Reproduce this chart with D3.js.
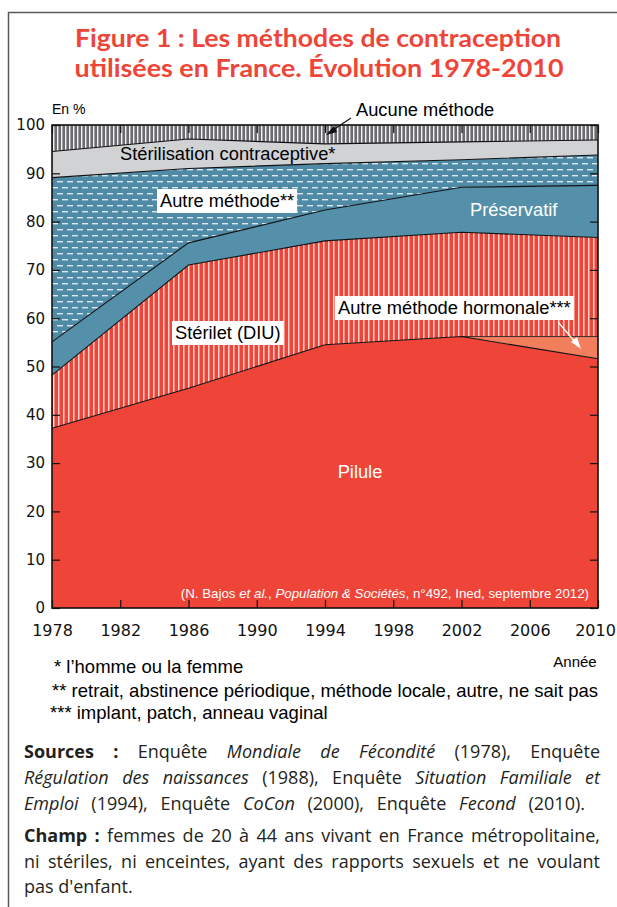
<!DOCTYPE html>
<html>
<head>
<meta charset="utf-8">
<script src="https://cdn.jsdelivr.net/npm/d3@7"></script>
<style>
  body { margin: 0; background: #fff; }
  svg { display: block; }
</style>
</head>
<body>
<div id="chart"></div>
<script>
// data (percentages, stacked bottom -> top)
var years = [1978, 1986, 1994, 2002, 2010];
var pilule = [37.2, 45.5, 54.5, 56.2, 51.6];
var hormonale = [0, 0, 0, 0, 4.6];
var sterilet = [11.0, 25.5, 21.5, 21.6, 20.5];
var preservatif = [6.9, 4.6, 6.4, 9.3, 10.8];
var autre = [34.0, 15.4, 9.6, 5.7, 6.3];
var sterilisation = [5.4, 6.1, 4.1, 3.7, 3.1];
var aucune = [5.5, 2.9, 3.9, 3.5, 3.1];
var xTicks = [1978, 1982, 1986, 1990, 1994, 1998, 2002, 2006, 2010];
var yTicks = [0, 10, 20, 30, 40, 50, 60, 70, 80, 90, 100];

var keys = ["pilule", "hormonale", "sterilet", "preservatif", "autre", "sterilisation", "aucune"];
var series = {pilule: pilule, hormonale: hormonale, sterilet: sterilet, preservatif: preservatif,
    autre: autre, sterilisation: sterilisation, aucune: aucune};
var fills = {pilule: "#ef4538", hormonale: "#f37e5c", sterilet: "url(#stripesRed)",
    preservatif: "#5590aa", autre: "url(#dashesBlue)", sterilisation: "#d1d2d4",
    aucune: "url(#stripesGray)"};

var rows = years.map(function (y, i) {
    var r = {year: y};
    keys.forEach(function (k) { r[k] = series[k][i]; });
    return r;
});

var W = 617, H = 907;
var margin = {top: 125, right: 19, bottom: 299, left: 52},
    width = W - margin.left - margin.right,
    height = H - margin.top - margin.bottom;

var svg = d3.select("#chart").append("svg")
    .attr("width", W)
    .attr("height", H);

// patterns
var defs = svg.append("defs");
var p1 = defs.append("pattern").attr("id", "stripesGray")
    .attr("patternUnits", "userSpaceOnUse").attr("width", 4).attr("height", 10);
p1.append("rect").attr("width", 4).attr("height", 10).attr("fill", "#6b6c6f");
p1.append("rect").attr("x", 1).attr("width", 1.4).attr("height", 10).attr("fill", "#f2f2f2");

var p2 = defs.append("pattern").attr("id", "stripesRed")
    .attr("patternUnits", "userSpaceOnUse").attr("width", 5).attr("height", 10);
p2.append("rect").attr("width", 5).attr("height", 10).attr("fill", "#ef4538");
p2.append("rect").attr("x", 1).attr("width", 1.5).attr("height", 10).attr("fill", "#fbd3cd");

var p3 = defs.append("pattern").attr("id", "dashesBlue")
    .attr("patternUnits", "userSpaceOnUse").attr("width", 10).attr("height", 12);
p3.append("rect").attr("width", 10).attr("height", 12).attr("fill", "#4f8ba7");
p3.append("rect").attr("x", 0).attr("y", 2).attr("width", 6).attr("height", 1.4).attr("fill", "#dbe8ef");
p3.append("rect").attr("x", 5).attr("y", 8).attr("width", 6).attr("height", 1.4).attr("fill", "#dbe8ef");
p3.append("rect").attr("x", -5).attr("y", 8).attr("width", 6).attr("height", 1.4).attr("fill", "#dbe8ef");

// outer frame
svg.append("rect")
    .attr("x", 8.5).attr("y", 12.5)
    .attr("width", 700).attr("height", 1000)
    .attr("fill", "none").attr("stroke", "#58595b").attr("stroke-width", 1.5);

// title (one text, two lines)
var title = svg.append("text").attr("fill", "#ef4538")
    .style("font-family", "Lato, 'Open Sans', sans-serif")
    .style("font-weight", 700)
    .style("font-size", "24.5px")
    .attr("text-anchor", "middle");
title.append("tspan").attr("x", 318).attr("y", 47)
    .attr("textLength", 486).attr("lengthAdjust", "spacingAndGlyphs")
    .text("Figure 1 : Les méthodes de contraception");
title.append("tspan").attr("x", 319).attr("y", 77)
    .attr("textLength", 489).attr("lengthAdjust", "spacingAndGlyphs")
    .text("utilisées en France. Évolution 1978-2010");

var g = svg.append("g")
    .attr("transform", "translate(" + margin.left + "," + margin.top + ")");

var x = d3.scaleLinear().domain([1978, 2010]).range([0, width]);
var y = d3.scaleLinear().domain([0, 100]).range([height, 0]);

var stack = d3.stack().keys(keys);
var layers = stack(rows);

var area = d3.area()
    .x(function (d) { return x(d.data.year); })
    .y0(function (d) { return y(d[0]); })
    .y1(function (d) { return y(d[1]); });

g.selectAll(".layer")
    .data(layers)
    .enter().append("path")
    .attr("class", "layer")
    .attr("d", area)
    .attr("fill", function (d) { return fills[d.key]; });

// boundary lines
var line = d3.line()
    .x(function (d) { return x(d.data.year); })
    .y(function (d) { return y(d[1]); });
g.selectAll(".edge")
    .data(layers.filter(function (d) { return d.key !== "aucune" && d.key !== "hormonale"; }))
    .enter().append("path")
    .attr("class", "edge")
    .attr("d", line)
    .attr("fill", "none")
    .attr("stroke", "#111")
    .attr("stroke-width", 1.1);
// hormonale top only where it exists
var hl = layers[1].filter(function (d) { return d.data.year >= 2002; });
g.append("path").attr("d", line(hl)).attr("fill", "none")
    .attr("stroke", "#111").attr("stroke-width", 0.8);

// axes with inner ticks
var xAx = g.append("g")
    .attr("transform", "translate(0," + height + ")")
    .call(d3.axisBottom(x).tickValues(xTicks).tickFormat(d3.format("d"))
        .tickSize(-8).tickSizeOuter(0).tickPadding(17));
xAx.selectAll(".tick text").style("font-size", "16px");
// keep the last year inside the page
xAx.selectAll(".tick text").filter(function (d) { return d === 2010; }).attr("dx", -3);
g.append("g")
    .call(d3.axisTop(x).tickValues(xTicks).tickFormat("").tickSize(-8).tickSizeOuter(0));
g.append("g")
    .call(d3.axisLeft(y).tickValues(yTicks).tickSize(-8).tickSizeOuter(0).tickPadding(7))
    .selectAll(".tick text").style("font-size", "15px");
g.append("g")
    .attr("transform", "translate(" + width + ",0)")
    .call(d3.axisRight(y).tickValues(yTicks).tickFormat("").tickSize(-8).tickSizeOuter(0));
g.selectAll(".domain").remove();
g.selectAll(".tick line").attr("stroke", "#111").attr("stroke-width", 1.2);
g.selectAll(".tick text").attr("fill", "#111")
    .style("font-family", "'DejaVu Sans', sans-serif");

g.append("rect").attr("width", width).attr("height", height)
    .attr("fill", "none").attr("stroke", "#111").attr("stroke-width", 1.6);

// labels
var lab = svg.append("g").style("font-family", "'Liberation Sans', Arial, sans-serif");
lab.append("text").attr("x", 52).attr("y", 114).style("font-size", "14px").text("En %");
lab.append("text").attr("x", 356).attr("y", 116).style("font-size", "18.3px").text("Aucune méthode");
lab.append("line").attr("x1", 351).attr("y1", 118).attr("x2", 330).attr("y2", 132)
    .attr("stroke", "#111").attr("stroke-width", 1.2);
lab.append("path").attr("d", "M326,135 L334,126 L337,132 Z").attr("fill", "#111");

lab.append("text").attr("x", 120).attr("y", 160).style("font-size", "18.3px")
    .text("Stérilisation contraceptive*");

function boxLabel(tx, ty, txt) {
    var t = lab.append("text").attr("x", tx).attr("y", ty).style("font-size", "18.3px").text(txt);
    var b = t.node().getBBox();
    lab.insert("rect", function () { return t.node(); })
        .attr("x", b.x - 3).attr("y", b.y - 1).attr("width", b.width + 6).attr("height", b.height + 3)
        .attr("fill", "#fff");
}
boxLabel(160, 207, "Autre méthode**");
boxLabel(338, 314, "Autre méthode hormonale***");
boxLabel(175, 339, "Stérilet (DIU)");

lab.append("text").attr("x", 470).attr("y", 216).attr("fill", "#fff").style("font-size", "18.3px")
    .text("Préservatif");
lab.append("text").attr("x", 360).attr("y", 478).attr("fill", "#fff").attr("text-anchor", "middle")
    .style("font-size", "18.3px").text("Pilule");

lab.append("line").attr("x1", 558).attr("y1", 322).attr("x2", 576).attr("y2", 343)
    .attr("stroke", "#fff").attr("stroke-width", 1.2);
lab.append("path").attr("d", "M581,349 L571,342 L577,337 Z").attr("fill", "#fff");

var src = lab.append("text").attr("x", 589).attr("y", 598).attr("text-anchor", "end")
    .attr("fill", "#fff").style("font-size", "13.3px");
src.append("tspan").text("(N. Bajos ");
src.append("tspan").style("font-style", "italic").text("et al.");
src.append("tspan").text(", ");
src.append("tspan").style("font-style", "italic").text("Population & Sociétés");
src.append("tspan").text(", n°492, Ined, septembre 2012)");

lab.append("text").attr("x", 575).attr("y", 667).attr("text-anchor", "middle")
    .style("font-size", "15px").text("Année");
lab.append("text").attr("x", 54).attr("y", 673).style("font-size", "18.5px").text("* l’homme ou la femme");
lab.append("text").attr("x", 52).attr("y", 697).style("font-size", "18.5px")
    .text("** retrait, abstinence périodique, méthode locale, autre, ne sait pas");
lab.append("text").attr("x", 50).attr("y", 719).style("font-size", "18.5px")
    .text("*** implant, patch, anneau vaginal");

// notes below, justified lines (w = right edge to stretch to)
var notes = [
    {y: 758, w: 600, parts: [["b", "Sources :"], ["n", " Enquête "], ["i", "Mondiale de Fécondité"], ["n", " (1978), Enquête"]]},
    {y: 784, w: 600, parts: [["i", "Régulation des naissances"], ["n", " (1988), Enquête "], ["i", "Situation Familiale et"]]},
    {y: 810, w: 585, parts: [["i", "Emploi"], ["n", " (1994), Enquête "], ["i", "CoCon"], ["n", " (2000), Enquête "], ["i", "Fecond"], ["n", " (2010)."]]},
    {y: 842, w: 600, parts: [["b", "Champ :"], ["n", " femmes de 20 à 44 ans vivant en France métropolitaine,"]]},
    {y: 868, w: 600, parts: [["n", "ni stériles, ni enceintes, ayant des rapports sexuels et ne voulant"]]},
    {y: 893, w: 0, parts: [["n", "pas d'enfant."]]}
];
var nt = svg.append("g").attr("fill", "#231f20")
    .style("font-family", "'Open Sans', sans-serif").style("font-size", "18px");
notes.forEach(function (n) {
    var t = nt.append("text").attr("x", 24).attr("y", n.y);
    n.parts.forEach(function (p) {
        var s = t.append("tspan").text(p[1]);
        if (p[0] === "b") s.style("font-weight", 700);
        if (p[0] === "i") s.style("font-style", "italic");
    });
    if (n.w) {
        var len = t.node().getComputedTextLength();
        var spaces = n.parts.map(function (p) { return p[1]; }).join("").split(" ").length - 1;
        var extra = (n.w - 24 - len) / spaces;
        if (extra < -2) {
            t.attr("textLength", n.w - 24).attr("lengthAdjust", "spacingAndGlyphs");
        } else {
            t.style("word-spacing", extra + "px");
        }
    }
});
</script>
</body>
</html>
